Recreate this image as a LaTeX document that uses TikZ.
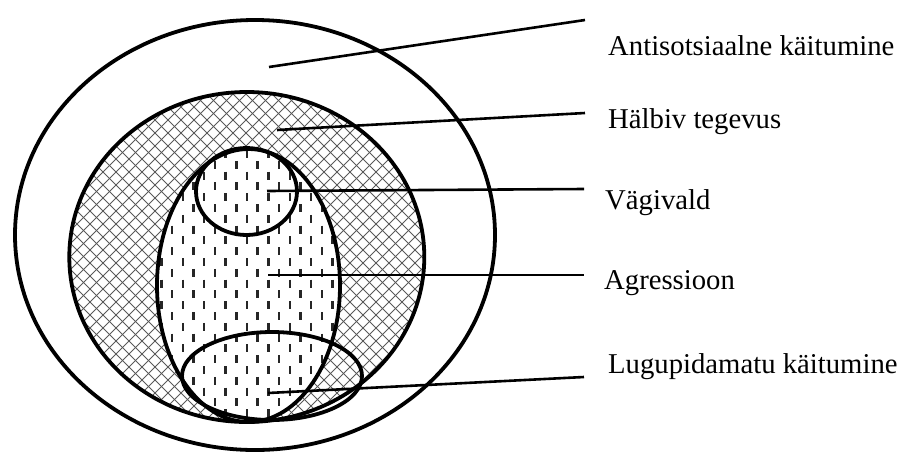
\documentclass[tikz,border=0pt]{standalone}
\usepackage{fontspec}
\setmainfont{Liberation Serif}
\begin{document}
\begin{tikzpicture}[x=1pt,y=-1pt,
  outline/.style={line width=3.8pt},
  conn/.style={line width=2.6pt},
  hatch/.style={line width=1pt, black!65},
  dashmark/.style={line width=2.5pt, black!85},
  lbl/.style={anchor=base west, inner sep=0pt, font=\fontsize{28.7}{34}\selectfont}]
\useasboundingbox (0,0) rectangle (904,453);

% cross-hatched middle circle
\begin{scope}
  \clip (246.8,257) ellipse [x radius=177.5, y radius=165];
  \foreach \k in {-50,...,50} {
    \draw[hatch] (246+\k*13,107) ++(-420,-420) -- ++(840,840);
    \draw[hatch] (246+\k*13,107) ++(420,-420) -- ++(-840,840);
  }
\end{scope}

% dashed aggression ellipse
\fill[white] (248.5,285.5) ellipse [x radius=91.5, y radius=136.5];
\begin{scope}
  \clip (248.5,285.5) ellipse [x radius=91.5, y radius=136.5];
  \foreach \i in {-9,...,9} {
    \pgfmathsetmacro\off{mod(abs(\i),2)*10.8}
    \foreach \j in {-1,...,14} {
      \draw[dashmark] (247+\i*10.7, 150+\off+\j*21.6) -- ++(0,8);
    }
  }
\end{scope}

% outlines
\draw[outline] (255,235) ellipse [x radius=240, y radius=215];
\draw[outline] (246.8,257) ellipse [x radius=177.5, y radius=165];
\draw[outline] (248.5,285.5) ellipse [x radius=91.5, y radius=136.5];
\draw[outline] (246.5,191.5) ellipse [x radius=50.5, y radius=43.5];
\draw[outline] (272,376) ellipse [x radius=90, y radius=44];

% labels
\node[lbl] (l1) at (608,55) {Antisotsiaalne käitumine};
\node[lbl] (l2) at (608,128) {Hälbiv tegevus};
\node[lbl] (l3) at (605,209) {Vägivald};
\node[lbl] (l4) at (604,289) {Agressioon};
\node[lbl] (l5) at (608,373) {Lugupidamatu käitumine};

% connector end points
\coordinate (c1a) at (269,67);  \coordinate (c1b) at (585,20);
\coordinate (c2a) at (277,130); \coordinate (c2b) at (585,113);
\coordinate (c3a) at (267,191); \coordinate (c3b) at (584,189);
\coordinate (c4a) at (268,275); \coordinate (c4b) at (584,275);
\coordinate (c5a) at (268,393); \coordinate (c5b) at (584,377);

\draw[conn] (c1a) -- (c1b);
\draw[conn] (c2a) -- (c2b);
\draw[conn] (c3a) -- (c3b);
\draw[conn] (c4a) -- (c4b);
\draw[conn] (c5a) -- (c5b);
\end{tikzpicture}
\end{document}
